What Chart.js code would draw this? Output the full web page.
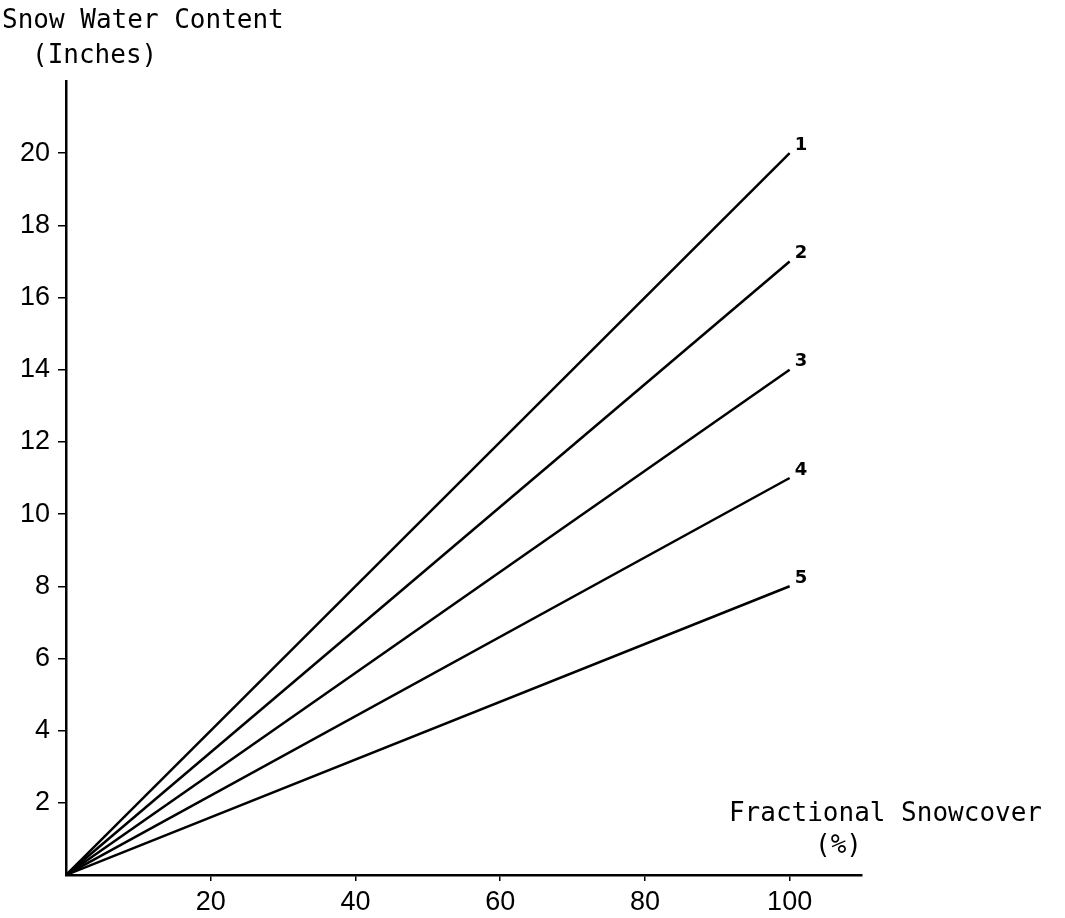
<!DOCTYPE html>
<html>
<head>
<meta charset="utf-8">
<script src="https://cdn.jsdelivr.net/npm/chart.js@4"></script>
<style>
  body { margin: 0; background: #fff; }
  #wrap { width: 1065px; height: 918px; position: relative; }
</style>
</head>
<body>
<div id="wrap"><canvas id="chart"></canvas></div>
<script>
// values
const fractionalSnowcover = [0, 100];
const curve1 = [0, 20];
const curve2 = [0, 17];
const curve3 = [0, 14];
const curve4 = [0, 11];
const curve5 = [0, 8];
const curveNames = ["1", "2", "3", "4", "5"];
const xTickValues = [20, 40, 60, 80, 100];
const yTickValues = [2, 4, 6, 8, 10, 12, 14, 16, 18, 20];

const curves = [curve1, curve2, curve3, curve4, curve5];

const tickFont = { family: "'Liberation Sans', Arial, sans-serif", size: 27 };
const monoFont = "26px 'DejaVu Sans Mono', 'Liberation Mono', monospace";

// numbers at the end of each line
const endLabels = {
  id: "endLabels",
  afterDatasetsDraw(chart) {
    const c = chart.ctx;
    c.save();
    c.fillStyle = "#000";
    c.font = "bold 18px 'DejaVu Sans', Arial, sans-serif";
    c.textAlign = "left";
    c.textBaseline = "bottom";
    chart.data.datasets.forEach((ds, i) => {
      const pts = chart.getDatasetMeta(i).data;
      const last = pts[pts.length - 1];
      c.fillText(curveNames[i], last.x + 5, last.y + 1);
    });
    c.restore();
  }
};

// typewriter style axis titles
const axisTitles = {
  id: "axisTitles",
  afterDraw(chart) {
    const c = chart.ctx;
    const x = chart.scales.x;
    c.save();
    c.fillStyle = "#000";
    c.font = monoFont;
    c.textBaseline = "alphabetic";
    c.textAlign = "left";
    c.fillText("Snow Water Content", 2, 28);
    c.fillText("(Inches)", 32, 63);
    c.textAlign = "right";
    c.fillText("Fractional Snowcover", 1042, 821);
    c.fillText("(%)", x.getPixelForValue(110), 853);
    c.restore();
  }
};

new Chart(document.getElementById("chart"), {
  type: "line",
  data: {
    datasets: curves.map((vals, i) => ({
      label: curveNames[i],
      data: vals.map((v, j) => ({ x: fractionalSnowcover[j], y: v })),
      borderColor: "#000",
      borderWidth: 2.5,
      pointRadius: 0,
      tension: 0,
      fill: false
    }))
  },
  options: {
    responsive: true,
    maintainAspectRatio: false,
    animation: false,
    layout: { padding: { top: 81, right: 203, left: 0, bottom: 0 } },
    plugins: {
      legend: { display: false },
      tooltip: { enabled: false }
    },
    scales: {
      x: {
        type: "linear",
        min: 0,
        max: 110,
        afterFit: s => { s.height = 43; },
        afterBuildTicks: s => { s.ticks = xTickValues.map(v => ({ value: v })); },
        grid: { drawOnChartArea: false, color: "#000", lineWidth: 1.5, tickLength: 6 },
        border: { color: "#000", width: 2.5 },
        ticks: { color: "#000", font: tickFont, padding: 5, maxRotation: 0 }
      },
      y: {
        type: "linear",
        min: 0,
        max: 22,
        afterFit: s => { s.width = 66; },
        afterBuildTicks: s => { s.ticks = yTickValues.map(v => ({ value: v })); },
        grid: { drawOnChartArea: false, color: "#000", lineWidth: 1.5, tickLength: 8 },
        border: { color: "#000", width: 2.5 },
        ticks: { color: "#000", font: tickFont, padding: 8 }
      }
    }
  },
  plugins: [endLabels, axisTitles]
});
</script>
</body>
</html>
